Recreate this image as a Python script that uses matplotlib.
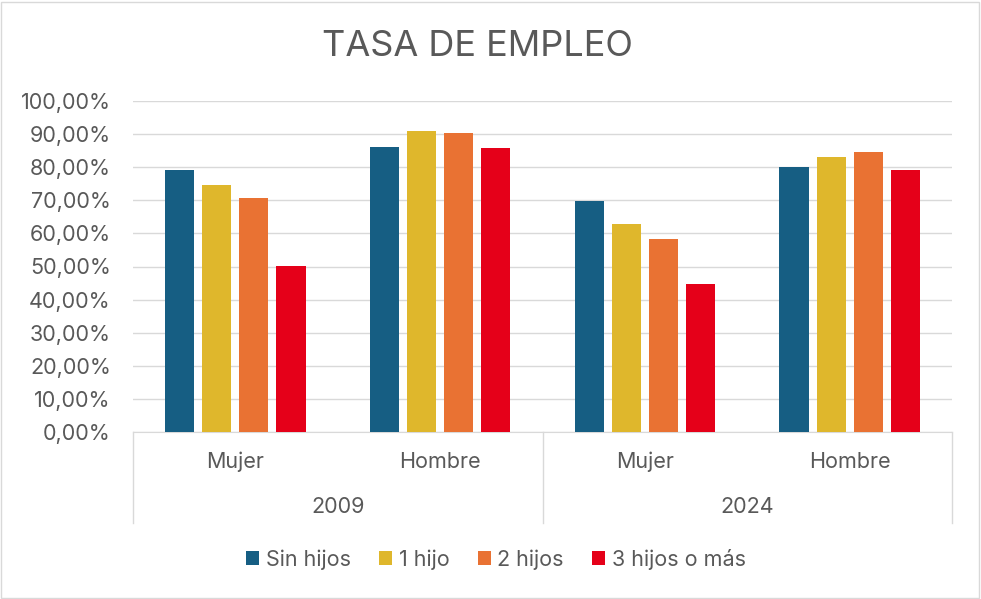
import numpy as np
import matplotlib.pyplot as plt
from matplotlib.lines import Line2D
from matplotlib.patches import Rectangle
from matplotlib.ticker import FuncFormatter

# Data
years = ['2009', '2024']
sexes = ['Mujer', 'Hombre']
series = ['Sin hijos', '1 hijo', '2 hijos', '3 hijos o más']
sin_hijos = [79.2, 86.1, 69.8, 80.1]
un_hijo = [74.6, 90.9, 62.8, 83.2]
dos_hijos = [70.8, 90.4, 58.2, 84.6]
tres_hijos = [50.2, 85.8, 44.7, 79.3]
colors = ['#165E83', '#DFB72C', '#E97233', '#E50019']

plt.rcParams['font.family'] = ['Inter', 'DejaVu Sans']
grey = '#595959'
fs = 15.5

fig = plt.figure(figsize=(9.81, 5.99), dpi=100)
W, H = 981, 599
ax = fig.add_axes([133 / W, 1 - 432 / H, 819 / W, 331 / H])

x = np.arange(4)
pitch = 0.181
width = 0.142
for i, (vals, lab) in enumerate(zip([sin_hijos, un_hijo, dos_hijos, tres_hijos], series)):
    ax.bar(x + (i - 1.5) * pitch, vals, width, color=colors[i], label=lab, zorder=3)

ax.set_xlim(-0.5, 3.5)
ax.set_ylim(0, 100)
ax.set_yticks(np.arange(0, 101, 10))
ax.yaxis.set_major_formatter(FuncFormatter(lambda v, p: f'{v:.2f}%'.replace('.', ',')))
ax.tick_params(axis='y', length=0, labelsize=fs, labelcolor=grey, pad=16)
ax.set_xticks([])
ax.grid(axis='y', color='#D9D9D9', lw=1, zorder=0)
for s in ['top', 'right', 'left']:
    ax.spines[s].set_visible(False)
ax.spines['bottom'].set_color('#D9D9D9')

# multi-level category axis
tr = ax.get_xaxis_transform()
for xv in [-0.5, 1.5, 3.5]:
    fig.add_artist(Line2D([xv, xv], [0, -0.275], transform=tr, color='#D9D9D9', lw=1, clip_on=False))
for i in range(4):
    ax.text(x[i], -0.09, sexes[i % 2], transform=tr, ha='center', va='center', fontsize=fs, color=grey)
for j, yr in enumerate(years):
    ax.text(0.5 + 2 * j, -0.227, yr, transform=tr, ha='center', va='center', fontsize=fs, color=grey)

fig.text(477 / W, 1 - 46 / H, 'TASA DE EMPLEO', ha='center', va='center', fontsize=26, color=grey)

leg = fig.legend(loc='center', bbox_to_anchor=(496 / W, 1 - 559 / H), ncol=4, frameon=False,
                 fontsize=fs, handlelength=0.6, handleheight=0.6, handletextpad=0.3,
                 columnspacing=1.33, labelcolor=grey)

fig.add_artist(Rectangle((1 / W, 1 / H), 978 / W, 596 / H, transform=fig.transFigure,
                         fill=False, edgecolor='#D9D9D9', lw=1))

fig.savefig('out.png', dpi=100)
